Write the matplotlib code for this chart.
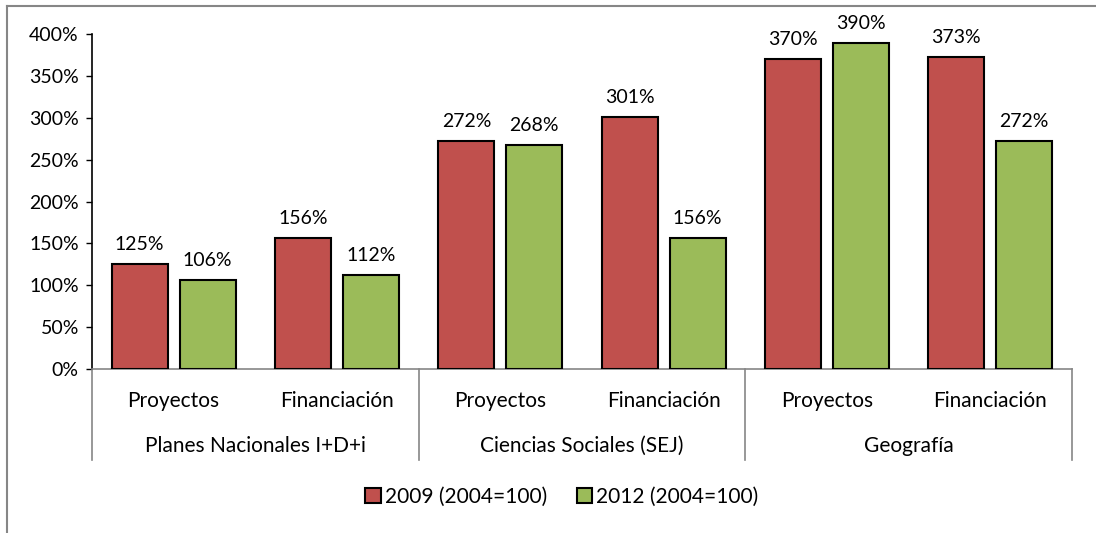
import matplotlib.pyplot as plt
from matplotlib.lines import Line2D
import numpy as np

plt.rcParams['font.family'] = ['Lato', 'DejaVu Sans']

categories = ["Proyectos", "Financiación"] * 3
groups = ["Planes Nacionales I+D+i", "Ciencias Sociales (SEJ)", "Geografía"]
series_names = ["2009 (2004=100)", "2012 (2004=100)"]
values_2009 = [125, 156, 272, 301, 370, 373]
values_2012 = [106, 112, 268, 156, 390, 272]
yticks = [0, 50, 100, 150, 200, 250, 300, 350, 400]

W, H = 1096, 533
fig = plt.figure(figsize=(W / 100, H / 100), dpi=100)

# plot area in pixels: x 92..1072, y 34..369
ax = fig.add_axes([92 / W, (H - 369) / H, (1072 - 92) / W, (369 - 34.3) / H])

x = np.arange(len(categories))
bw = 0.343
off = 0.208
red = "#C0504D"
green = "#9BBB59"

b1 = ax.bar(x - off, values_2009, bw, color=red, edgecolor="black", linewidth=1.5,
            label=series_names[0], zorder=3)
b2 = ax.bar(x + off, values_2012, bw, color=green, edgecolor="black", linewidth=1.5,
            label=series_names[1], zorder=3)

for bars, vals in [(b1, values_2009), (b2, values_2012)]:
    for r, v in zip(bars, vals):
        ax.annotate(f"{v}%", (r.get_x() + r.get_width() / 2, v),
                    xytext=(0, 8), textcoords="offset points",
                    ha="center", va="bottom", fontsize=14, color="black")

ax.set_xlim(-0.5, len(categories) - 0.5)
ax.set_ylim(0, 400)
ax.set_yticks(yticks)
ax.set_yticklabels([f"{t}%" for t in yticks], fontsize=14)
ax.tick_params(axis="y", direction="out", length=4.5, width=1, pad=5, colors="black")
ax.set_xticks([])

for s in ["top", "right"]:
    ax.spines[s].set_visible(False)
ax.spines["left"].set_color("black")
ax.spines["left"].set_linewidth(1.2)
ax.spines["bottom"].set_color("#868686")
ax.spines["bottom"].set_linewidth(1.2)

# multi-level category axis
trans = ax.get_xaxis_transform()
sep_depth = -91 / 334.7
for xs in [-0.5, 1.5, 3.5, 5.5]:
    ax.plot([xs, xs], [0, sep_depth], color="#868686", lw=1.2,
            transform=trans, clip_on=False)
for i, c in enumerate(categories):
    ax.text(i, -32 / 334.7, c, transform=trans, ha="center", va="center", fontsize=15)
for g, name in enumerate(groups):
    ax.text(2 * g + 0.5, -77 / 334.7, name, transform=trans, ha="center", va="center",
            fontsize=15)

fig.legend(handles=[b1, b2], labels=series_names, loc="center",
           bbox_to_anchor=(562 / W, (H - 497) / H), ncol=2, frameon=False,
           fontsize=15, handlelength=0.75, handleheight=0.75, handletextpad=0.2,
           columnspacing=1.4)

# chart border (left and top visible)
fig.add_artist(Line2D([7.3 / W, 7.3 / W], [0, 1 - 5.7 / H], color="#868686", lw=1.5))
fig.add_artist(Line2D([7.3 / W, 1], [1 - 5.7 / H, 1 - 5.7 / H], color="#868686", lw=1.5))

fig.savefig("out.png", dpi=100)
